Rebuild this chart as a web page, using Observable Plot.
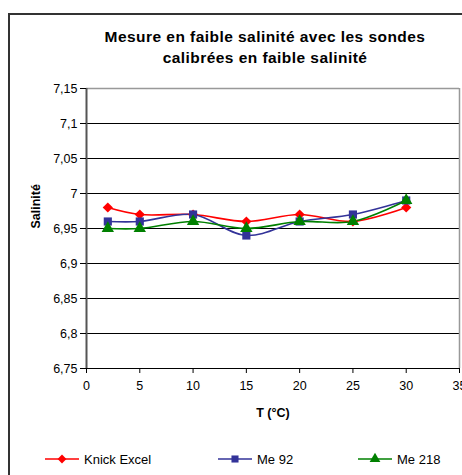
<!DOCTYPE html>
<html>
<head>
<meta charset="utf-8">
<script src="https://cdn.jsdelivr.net/npm/d3@7"></script>
<script src="https://cdn.jsdelivr.net/npm/@observablehq/plot@0.6"></script>
<style>
  html, body { margin: 0; padding: 0; background: #fff; }
  #wrap { position: relative; width: 462px; height: 475px; overflow: hidden; font-family: "Liberation Sans", Arial, sans-serif; }
  #border { position: absolute; left: 8px; top: 13px; width: 600px; height: 600px; border-left: 2px solid #333; border-top: 2px solid #333; box-sizing: border-box; }
  #title { position: absolute; left: 45px; width: 440px; top: 26px; text-align: center; font-weight: bold; font-size: 15.5px; letter-spacing: 0.45px; line-height: 21px; color: #000; }
  #chart { position: absolute; left: 0; top: 0; }
  .leg { position: absolute; top: 451px; font-size: 13px; color: #000; display: flex; align-items: center; }
  .leg svg { margin-right: 3px; }
</style>
</head>
<body>
<div id="wrap">
  <div id="border"></div>
  <div id="chart"></div>
  <div id="title">Mesure en faible salinité avec les sondes<br>calibrées en faible salinité</div>
  <div id="legend"></div>
</div>
<script>
const temps = [2, 5, 10, 15, 20, 25, 30];
const knickExcel = [6.98, 6.97, 6.97, 6.96, 6.97, 6.96, 6.98];
const me92 = [6.96, 6.96, 6.97, 6.94, 6.96, 6.97, 6.99];
const me218 = [6.95, 6.95, 6.96, 6.95, 6.96, 6.96, 6.99];
const seriesNames = ["Knick Excel", "Me 92", "Me 218"];
const seriesColors = ["#ff0000", "#333399", "#008000"];
const seriesSymbols = ["diamond2", "square", "triangle"];
const yTicks = [6.75, 6.8, 6.85, 6.9, 6.95, 7, 7.05, 7.1, 7.15];
const xTicks = [0, 5, 10, 15, 20, 25, 30, 35];

const allValues = [knickExcel, me92, me218];
const data = [];
seriesNames.forEach((name, i) => {
  temps.forEach((t, j) => data.push({ series: name, t, v: allValues[i][j] }));
});

const fmt = d => String(+d.toFixed(2)).replace(".", ",");

const plot = Plot.plot({
  width: 462,
  height: 475,
  marginLeft: 86,
  marginRight: 3,
  marginTop: 88,
  marginBottom: 107,
  style: { fontFamily: "'Liberation Sans', Arial, sans-serif", fontSize: "12px", color: "#000", background: "transparent" },
  x: { domain: [0, 35] },
  y: { domain: [6.75, 7.15] },
  color: { domain: seriesNames, range: seriesColors },
  symbol: { domain: seriesNames, range: seriesSymbols },
  marks: [
    Plot.ruleY(yTicks.slice(1, -1), { stroke: "#000", strokeWidth: 1 }),
    Plot.ruleY([7.15], { stroke: "#999", strokeWidth: 1.5 }),
    Plot.ruleX([35], { stroke: "#999", strokeWidth: 1.5 }),
    Plot.ruleY([6.75], { stroke: "#000", strokeWidth: 1 }),
    Plot.ruleX([0], { stroke: "#555", strokeWidth: 2 }),
    Plot.axisY({ ticks: yTicks, tickFormat: fmt, tickSize: 6, tickPadding: 3, stroke: "#000", fontSize: 12.5, label: null }),
    Plot.axisX({ ticks: xTicks, tickSize: 5, tickPadding: 8, stroke: "#000", fontSize: 12.5, label: null }),
    Plot.text(["Salinité"], { frameAnchor: "left", dx: -51, rotate: -90, fontWeight: "bold", fontSize: 12.5 }),
    Plot.text(["T (°C)"], { frameAnchor: "bottom", dy: 48, fontWeight: "bold", fontSize: 12.5 }),
    Plot.line(data, { x: "t", y: "v", z: "series", stroke: "series", strokeWidth: 1.6, curve: "catmull-rom" }),
    Plot.dot(data, { x: "t", y: "v", fill: "series", symbol: "series", r: 4.6, stroke: "none" })
  ]
});
document.getElementById("chart").appendChild(plot);

// legend
const legend = document.getElementById("legend");
const legX = [45, 218, 358];
seriesNames.forEach((name, i) => {
  const div = document.createElement("div");
  div.className = "leg";
  div.style.left = legX[i] + "px";
  const sw = d3.create("svg").attr("width", 36).attr("height", 16);
  sw.append("line").attr("x1", 0).attr("x2", 34).attr("y1", 8).attr("y2", 8).attr("stroke", seriesColors[i]).attr("stroke-width", 1.6);
  const symMap = { diamond2: d3.symbolDiamond2, square: d3.symbolSquare, triangle: d3.symbolTriangle };
  sw.append("path").attr("transform", "translate(17,8)").attr("d", d3.symbol(symMap[seriesSymbols[i]], 50)()).attr("fill", seriesColors[i]);
  div.appendChild(sw.node());
  const span = document.createElement("span");
  span.textContent = name;
  div.appendChild(span);
  legend.appendChild(div);
});
</script>
</body>
</html>
